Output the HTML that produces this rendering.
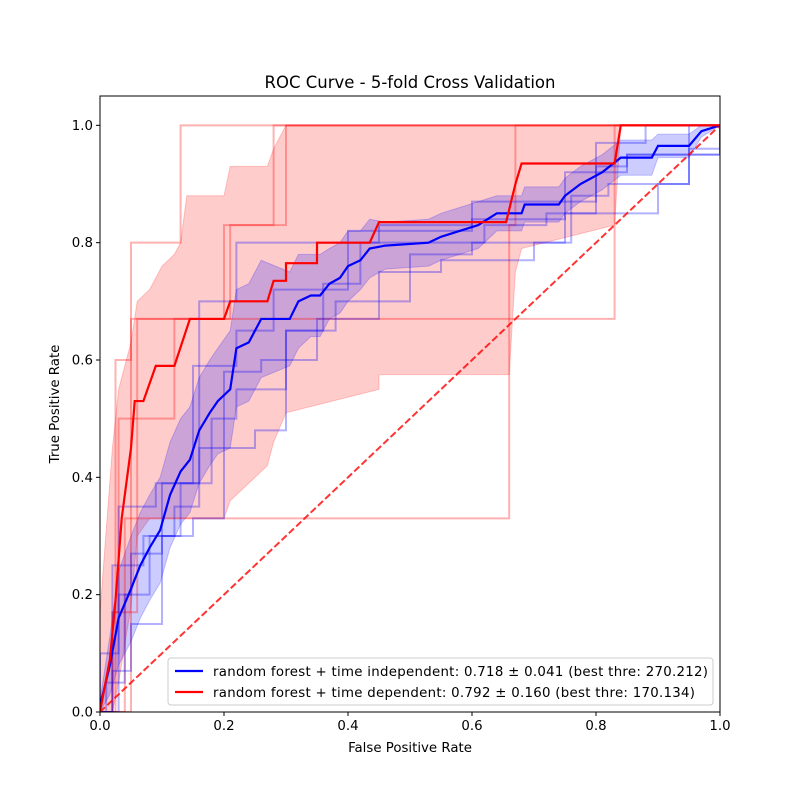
<!DOCTYPE html>
<html><head><meta charset="utf-8"><style>
html,body{margin:0;padding:0;background:#fff}
svg text{font-family:"DejaVu Sans","Liberation Sans",sans-serif;fill:#000}
</style></head><body>
<svg id="chart" width="800" height="800" viewBox="0 0 800 800" xmlns="http://www.w3.org/2000/svg">
<rect width="800" height="800" fill="#fff"/>
<text x="410" y="88" font-size="16.5" text-anchor="middle">ROC Curve - 5-fold Cross Validation</text>
<g id="plot"></g>
<text x="410" y="752" font-size="13.33" text-anchor="middle">False Positive Rate</text>
<text x="59" y="404" font-size="13.33" text-anchor="middle" transform="rotate(-90 59 404)">True Positive Rate</text>
</svg>
<script>
const xTicks=[0,0.2,0.4,0.6,0.8,1.0];
const yTicks=[0,0.2,0.4,0.6,0.8,1.0];
const xTickLabels=["0.0","0.2","0.4","0.6","0.8","1.0"];
const yTickLabels=["0.0","0.2","0.4","0.6","0.8","1.0"];
const blueMeanFpr=[0,0.016,0.03,0.05,0.065,0.08,0.097,0.113,0.13,0.145,0.16,0.177,0.19,0.21,0.22,0.24,0.26,0.306,0.32,0.34,0.355,0.37,0.387,0.40,0.42,0.435,0.46,0.53,0.55,0.58,0.61,0.64,0.68,0.685,0.74,0.75,0.775,0.81,0.84,0.89,0.90,0.95,0.97,1];
const blueMeanTpr=[0.01,0.08,0.16,0.21,0.25,0.28,0.31,0.37,0.41,0.43,0.48,0.51,0.53,0.55,0.62,0.63,0.67,0.67,0.70,0.71,0.71,0.73,0.74,0.76,0.77,0.79,0.795,0.80,0.81,0.82,0.83,0.85,0.85,0.865,0.865,0.88,0.90,0.92,0.945,0.945,0.965,0.965,0.99,1];
const blueStd=[0.01,0.05,0.08,0.09,0.09,0.09,0.09,0.09,0.09,0.09,0.09,0.09,0.09,0.1,0.1,0.1,0.1,0.08,0.08,0.07,0.07,0.06,0.06,0.06,0.05,0.05,0.04,0.04,0.04,0.04,0.04,0.03,0.03,0.03,0.03,0.03,0.03,0.03,0.03,0.03,0.02,0.02,0.01,0];
const redMeanFpr=[0,0.016,0.025,0.035,0.05,0.056,0.07,0.09,0.12,0.145,0.2,0.21,0.27,0.28,0.3,0.3,0.35,0.35,0.435,0.45,0.655,0.67,0.68,0.83,0.84,1];
const redMeanTpr=[0,0.09,0.19,0.33,0.45,0.53,0.53,0.59,0.59,0.67,0.67,0.70,0.70,0.735,0.735,0.765,0.765,0.80,0.80,0.835,0.835,0.90,0.935,0.935,1,1];
const redBandFpr=[0,0.02,0.03,0.05,0.06,0.08,0.1,0.12,0.13,0.14,0.2,0.21,0.27,0.28,0.3,0.45,0.45,0.65,0.66,0.67,0.68,0.83,0.84,1];
const redBandUpper=[0.17,0.45,0.55,0.63,0.70,0.72,0.76,0.78,0.80,0.88,0.88,0.93,0.93,0.96,1,1,1,1,1,1,1,1,1,1];
const redBandLower=[0,0,0.05,0.18,0.30,0.33,0.33,0.33,0.33,0.33,0.33,0.36,0.42,0.46,0.51,0.55,0.575,0.575,0.575,0.75,0.79,0.83,1,1];
const redFolds=[
 [[0,0],[0.05,0],[0.05,0.8],[0.13,0.8],[0.13,1],[1,1]],
 [[0,0],[0.025,0],[0.025,0.6],[0.05,0.6],[0.05,0.67],[0.21,0.67],[0.21,0.83],[0.3,0.83],[0.3,1],[1,1]],
 [[0,0],[0.04,0],[0.04,0.33],[0.66,0.33],[0.66,0.83],[0.67,0.83],[0.67,1],[1,1]],
 [[0,0],[0.02,0],[0.02,0.17],[0.06,0.17],[0.06,0.67],[0.83,0.67],[0.83,1],[1,1]],
 [[0,0],[0.02,0],[0.02,0.17],[0.03,0.17],[0.03,0.5],[0.12,0.5],[0.12,0.67],[0.2,0.67],[0.2,0.83],[0.28,0.83],[0.28,1],[1,1]]
];
const blueFolds=[
 [[0,0],[0,0.1],[0.03,0.1],[0.03,0.35],[0.09,0.35],[0.09,0.39],[0.16,0.39],[0.16,0.7],[0.22,0.7],[0.22,0.8],[0.45,0.8],[0.45,0.83],[0.6,0.83],[0.6,0.87],[0.8,0.87],[0.8,0.97],[0.88,0.97],[0.88,1],[1,1]],
 [[0,0],[0.03,0.2],[0.05,0.27],[0.1,0.39],[0.15,0.59],[0.22,0.65],[0.28,0.72],[0.4,0.82],[0.6,0.84],[0.75,0.92],[0.85,0.95],[0.95,1],[1,1]],
 [[0,0],[0.02,0.07],[0.05,0.15],[0.1,0.3],[0.15,0.33],[0.2,0.45],[0.25,0.48],[0.3,0.6],[0.35,0.67],[0.45,0.75],[0.55,0.77],[0.7,0.8],[0.75,0.85],[0.9,0.9],[0.95,0.95],[1,1]],
 [[0,0],[0.02,0.25],[0.07,0.3],[0.12,0.35],[0.16,0.45],[0.2,0.58],[0.26,0.6],[0.3,0.65],[0.38,0.7],[0.5,0.78],[0.6,0.8],[0.76,0.88],[0.82,0.9],[0.95,0.96],[1,1]],
 [[0,0],[0.01,0.05],[0.04,0.2],[0.08,0.3],[0.13,0.39],[0.18,0.5],[0.22,0.55],[0.3,0.65],[0.36,0.73],[0.42,0.8],[0.55,0.8],[0.62,0.83],[0.72,0.85],[0.8,0.93],[0.85,0.95],[1,1]]
];
const legendLabels=["random forest + time independent: 0.718 \u00b1 0.041 (best thre: 270.212)","random forest + time dependent: 0.792 \u00b1 0.160 (best thre: 170.134)"];
const legendWidths=[495,482];

const L=100,R=720,T=96,B=712,NS="http://www.w3.org/2000/svg";
const sx=v=>L+v*(R-L);
const sy=v=>B-v/1.05*(B-T);
const plot=document.getElementById('plot');
function mk(tag,attrs,parent){const e=document.createElementNS(NS,tag);for(const k in attrs)e.setAttribute(k,attrs[k]);(parent||plot).appendChild(e);return e;}
const defs=mk('defs',{});const cp=mk('clipPath',{id:'clip'},defs);mk('rect',{x:L,y:T,width:R-L,height:B-T},cp);
const g=mk('g',{'clip-path':'url(#clip)'});
function bandPath(xs,lo,hi){let d='M'+xs.map((x,i)=>sx(x)+','+sy(Math.min(1,hi[i]))).join('L');for(let i=xs.length-1;i>=0;i--)d+='L'+sx(xs[i])+','+sy(Math.max(0,lo[i]));return d+'Z';}
let p=mk('path',{d:bandPath(redBandFpr,redBandLower,redBandUpper),fill:'rgba(255,0,0,0.2)',stroke:'rgba(255,0,0,0.2)','stroke-width':1},g);


const bl=blueMeanTpr.map((v,i)=>v-blueStd[i]),bh=blueMeanTpr.map((v,i)=>v+blueStd[i]);
p=mk('path',{d:bandPath(blueMeanFpr,bl,bh),fill:'rgba(0,0,255,0.2)',stroke:'rgba(0,0,255,0.2)','stroke-width':1},g);


function stepPath(pts){let d='M'+sx(pts[0][0])+','+sy(pts[0][1]);for(let i=1;i<pts.length;i++){d+='L'+sx(pts[i][0])+','+sy(pts[i-1][1])+'L'+sx(pts[i][0])+','+sy(pts[i][1]);}return d;}
redFolds.forEach((f,i)=>{const e=mk('path',{d:stepPath(f),fill:'none',stroke:'rgba(255,0,0,0.3)','stroke-width':2},g);

});
blueFolds.forEach((f,i)=>{const e=mk('path',{d:stepPath(f),fill:'none',stroke:'rgba(0,0,255,0.3)','stroke-width':2},g);

});
const diag=mk('line',{x1:sx(0),y1:sy(0),x2:sx(1),y2:sy(1),stroke:'rgba(255,0,0,0.8)','stroke-width':2,'stroke-dasharray':'7,3'},g);


p=mk('polyline',{points:blueMeanFpr.map((x,i)=>sx(x)+','+sy(blueMeanTpr[i])).join(' '),fill:'none',stroke:'#0000ff','stroke-width':2.2},g);


p=mk('polyline',{points:redMeanFpr.map((x,i)=>sx(x)+','+sy(redMeanTpr[i])).join(' '),fill:'none',stroke:'#ff0000','stroke-width':2.2},g);


const frame=mk('rect',{x:L,y:T,width:R-L,height:B-T,fill:'none',stroke:'#000','stroke-width':1});


xTicks.forEach((v,i)=>{mk('line',{x1:sx(v),x2:sx(v),y1:B,y2:B+4,stroke:'#000'});const t=mk('text',{x:sx(v),y:B+18,'font-size':13.33,'text-anchor':'middle'});t.textContent=xTickLabels[i];

});
yTicks.forEach((v,i)=>{mk('line',{x1:L-4,x2:L,y1:sy(v),y2:sy(v),stroke:'#000'});const t=mk('text',{x:L-7,y:sy(v)+4.5,'font-size':13.33,'text-anchor':'end'});t.textContent=yTickLabels[i];

});
const lg=mk('g',{});


mk('rect',{x:168,y:658,width:545,height:47,rx:3,fill:'rgba(255,255,255,0.8)',stroke:'#ccc'},lg);
['#0000ff','#ff0000'].forEach((c,i)=>{const y=671+i*21;mk('line',{x1:175,x2:203,y1:y,y2:y,stroke:c,'stroke-width':2.2},lg);const t=mk('text',{x:213,y:y+5,'font-size':13.33,textLength:legendWidths[i],lengthAdjust:'spacing'},lg);t.textContent=legendLabels[i];

});
</script>
</body></html>
